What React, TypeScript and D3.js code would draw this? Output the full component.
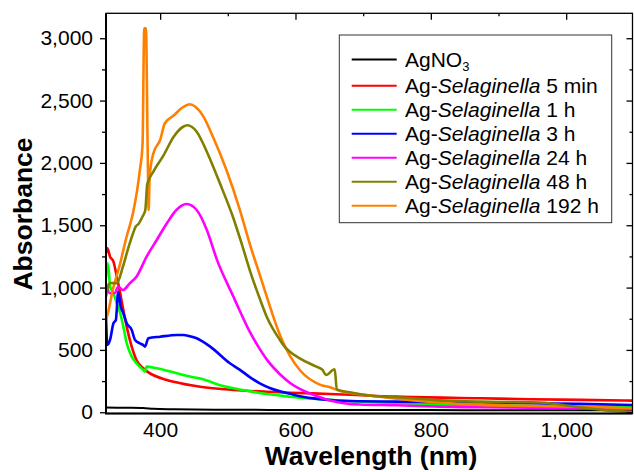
import React, { useEffect, useRef } from 'react'
import * as d3 from 'd3'

type Pt = [number, number]

// [wavelength nm, absorbance]
const agno3: Pt[] = [
    [320, 38], [350, 36], [375, 34], [390, 28], [420, 24], [480, 20],
    [560, 19], [700, 18], [850, 17], [1000, 16], [1098, 15]
]
const min5: Pt[] = [
    [320, 1275], [322, 1315], [326, 1248], [331, 1208], [336, 1087], [341, 954],
    [345.6, 820], [350.6, 687], [358, 526], [365, 419], [375, 353], [380, 330],
    [410, 259], [420, 245], [459, 205], [508, 179], [558, 165], [592, 157],
    [651, 147], [750, 125], [873, 112], [946, 104], [1020, 99], [1098, 93]
]
const h1: Pt[] = [
    [320, 1075], [322, 1195], [324, 1141], [326, 1007], [331, 954], [336, 874],
    [341, 794], [345.6, 687], [350.6, 553], [358, 446], [365, 393], [375, 339],
    [377.6, 326], [380, 366], [395, 353], [424.5, 313], [444, 286], [459, 270],
    [493, 210], [533, 168], [543, 158], [592, 125], [651, 100], [700, 85],
    [800, 65], [900, 55], [1000, 45], [1098, 40]
]
const h3: Pt[] = [
    [320, 767], [322, 540], [326, 580], [331, 714], [334.6, 740], [338, 967],
    [341.7, 847], [345.6, 794], [350.6, 714], [358, 660], [363, 580], [370, 553],
    [375, 540], [377.6, 526], [382.5, 593], [400, 606], [424.5, 620], [434, 620],
    [444, 610], [454, 593], [474, 526], [503, 393], [518, 340], [533, 280],
    [548, 230], [562, 195], [577, 168], [592, 148], [607, 128], [636, 105],
    [666, 92], [750, 85], [814, 82], [873, 80], [946, 72], [1020, 67], [1098, 58]
]
const h24: Pt[] = [
    [320, 1034], [326, 954], [333, 956], [338, 1007], [345, 980], [355, 1034],
    [365, 1087], [380, 1248], [395, 1382], [410, 1516], [424, 1622], [439, 1670],
    [454, 1622], [469, 1462], [484, 1222], [508, 930], [518, 810], [533, 640],
    [548, 500], [558, 420], [577, 305], [592, 235], [607, 185], [636, 120],
    [651, 95], [695, 62], [750, 56], [814, 45], [873, 40], [946, 37],
    [1020, 32], [1098, 25]
]
const h48: Pt[] = [
    [320, 927], [326, 1037], [336, 1035], [345, 1168], [352, 1300], [360, 1436],
    [364, 1490], [368, 1510], [374, 1570], [378, 1620], [381, 1830], [390, 1930],
    [405, 2060], [420, 2210], [434, 2290], [440, 2302], [454, 2250], [469, 2090],
    [488, 1840], [508, 1560], [520, 1360], [533, 1130], [548, 900], [558, 760],
    [577, 580], [582, 540], [607, 430], [631, 366], [640, 340], [645, 299],
    [658, 345], [661, 184], [680, 160], [715, 130], [750, 120], [814, 95],
    [873, 85], [946, 80], [960, 78], [1020, 40], [1060, 15], [1098, 2]
]
const h192: Pt[] = [
    [320, 740], [323, 800], [330, 980], [341, 1195], [350, 1400], [360, 1600],
    [366, 1780], [370, 1940], [374, 2150], [376.5, 3080], [379, 3080], [381.6, 2100],
    [383, 1622], [384.5, 1890], [390, 2077], [400, 2184], [407, 2318], [420, 2380],
    [432, 2440], [444, 2470], [452, 2450], [464, 2371], [478, 2210], [498, 1943],
    [518, 1620], [533, 1340], [548, 1090], [558, 920], [577, 620], [592, 450],
    [607, 335], [636, 222], [651, 200], [666, 170], [700, 140], [740, 115],
    [814, 78], [873, 59], [946, 51], [1020, 45], [1098, 32]
]

const seriesData = [agno3, min5, h1, h3, h24, h48, h192]
const seriesLabels = ['', '5 min', '1 h', '3 h', '24 h', '48 h', '192 h']
const seriesColors = ['#000000', '#ff0000', '#00ff00', '#0000ff', '#ff00ff', '#808000', '#ff8000']
const drawOrder = [0, 1, 2, 3, 4, 6, 5]

const xTicks = [400, 600, 800, 1000]
const xMinorTicks = [500, 700, 900]
const yTicks = [0, 500, 1000, 1500, 2000, 2500, 3000]
const yMinorTicks = [250, 750, 1250, 1750, 2250, 2750]

const W = 634
const H = 472
const font = 'Liberation Sans, Arial, sans-serif'

const App: React.FC = () => {
    const ref = useRef<SVGSVGElement>(null)
    useEffect(() => {
        const svg = d3.select(ref.current)
        svg.selectAll('*').remove()

        const x = d3.scaleLinear().domain([320, 1098]).range([106, 632.5])
        const y = d3.scaleLinear().domain([-10, 3200]).range([413.5, 13.3])
        const [x0, x1] = x.range()
        const [y0, y1] = y.range()

        svg.append('clipPath')
            .attr('id', 'plot-clip')
            .append('rect')
            .attr('x', x0)
            .attr('y', y1)
            .attr('width', x1 - x0)
            .attr('height', y0 - y1)

        const line = d3
            .line<Pt>()
            .curve(d3.curveMonotoneX)
            .x((d) => x(d[0]))
            .y((d) => y(d[1]))

        svg.append('g')
            .attr('clip-path', 'url(#plot-clip)')
            .selectAll('path')
            .data(drawOrder)
            .join('path')
            .attr('fill', 'none')
            .attr('stroke', (i) => seriesColors[i])
            .attr('stroke-width', (i) => (i === 0 ? 2 : 2.6))
            .attr('stroke-linejoin', 'round')
            .attr('d', (i) => line(seriesData[i]))

        // frame
        svg.append('rect')
            .attr('x', x0)
            .attr('y', y1)
            .attr('width', x1 - x0)
            .attr('height', y0 - y1)
            .attr('fill', 'none')
            .attr('stroke', '#000')
            .attr('stroke-width', 1.3)
        svg.append('path')
            .attr('d', `M${x0},${y1}V${y0}H${x1}`)
            .attr('fill', 'none')
            .attr('stroke', '#000')
            .attr('stroke-width', 2)

        const styleAxis = (g: any) => {
            g.select('.domain').remove()
            g.selectAll('line').attr('stroke', '#000').attr('stroke-width', 1.3)
            g.selectAll('text')
                .attr('fill', '#000')
                .attr('font-family', font)
                .attr('font-size', 21)
        }

        // left
        svg.append('g')
            .attr('transform', `translate(${x0},0)`)
            .call(d3.axisLeft(y).tickValues(yTicks).tickSize(6).tickPadding(7).tickFormat(d3.format(',') as any))
            .call(styleAxis)
        svg.append('g')
            .attr('transform', `translate(${x0},0)`)
            .call(d3.axisLeft(y).tickValues(yMinorTicks).tickSize(4).tickFormat(() => ''))
            .call(styleAxis)
        // right (inward)
        svg.append('g')
            .attr('transform', `translate(${x1},0)`)
            .call(d3.axisRight(y).tickValues(yTicks).tickSize(-6).tickFormat(() => ''))
            .call(styleAxis)
        svg.append('g')
            .attr('transform', `translate(${x1},0)`)
            .call(d3.axisRight(y).tickValues(yMinorTicks).tickSize(-3).tickFormat(() => ''))
            .call(styleAxis)
        // bottom labels only
        svg.append('g')
            .attr('transform', `translate(0,${y0})`)
            .call(d3.axisBottom(x).tickValues(xTicks).tickSize(0).tickPadding(9).tickFormat(d3.format(',') as any))
            .call(styleAxis)
        // top (inward)
        svg.append('g')
            .attr('transform', `translate(0,${y1})`)
            .call(d3.axisTop(x).tickValues(xTicks).tickSize(-6.5).tickFormat(() => ''))
            .call(styleAxis)
        svg.append('g')
            .attr('transform', `translate(0,${y1})`)
            .call(d3.axisTop(x).tickValues(xMinorTicks).tickSize(-3).tickFormat(() => ''))
            .call(styleAxis)

        // axis titles
        svg.append('text')
            .attr('x', 371)
            .attr('y', 465)
            .attr('text-anchor', 'middle')
            .attr('font-family', font)
            .attr('font-weight', 'bold')
            .attr('font-size', 26.5)
            .text('Wavelength (nm)')
        svg.append('text')
            .attr('transform', 'translate(31.5,214) rotate(-90)')
            .attr('text-anchor', 'middle')
            .attr('font-family', font)
            .attr('font-weight', 'bold')
            .attr('font-size', 26.5)
            .text('Absorbance')

        // legend
        const legend = svg.append('g')
        legend.append('rect')
            .attr('x', 339.3)
            .attr('y', 35)
            .attr('width', 272.4)
            .attr('height', 187.7)
            .attr('fill', '#fff')
            .attr('stroke', '#333')
            .attr('stroke-width', 1)
        const rowY = (i: number) => (i === 0 ? 59.5 : 85.7 + 24 * (i - 1))
        const rows = legend
            .selectAll('g.row')
            .data(seriesColors.map((c, i) => i))
            .join('g')
            .attr('class', 'row')
            .attr('transform', (i) => `translate(0,${rowY(i)})`)
        rows.append('line')
            .attr('x1', 351.7)
            .attr('x2', 396.7)
            .attr('stroke', (i) => seriesColors[i])
            .attr('stroke-width', 2)
        const txt = rows
            .append('text')
            .attr('x', 405)
            .attr('y', 7)
            .attr('font-family', font)
            .attr('font-size', 21)
            .attr('fill', '#000')
        txt.each(function (i) {
            const t = d3.select(this)
            if (i === 0) {
                t.append('tspan').text('AgNO')
                t.append('tspan').attr('font-size', 13).attr('dy', 4).text('3')
            } else {
                t.append('tspan').text('Ag-')
                t.append('tspan').attr('font-style', 'italic').text('Selaginella')
                t.append('tspan').text(' ' + seriesLabels[i])
            }
        })
    }, [])
    return (
        <svg
            ref={ref}
            width={W}
            height={H}
            viewBox={`0 0 ${W} ${H}`}
            style={{ position: 'absolute', left: 0, top: 0, background: '#fff' }}
        ></svg>
    )
}

export default App
